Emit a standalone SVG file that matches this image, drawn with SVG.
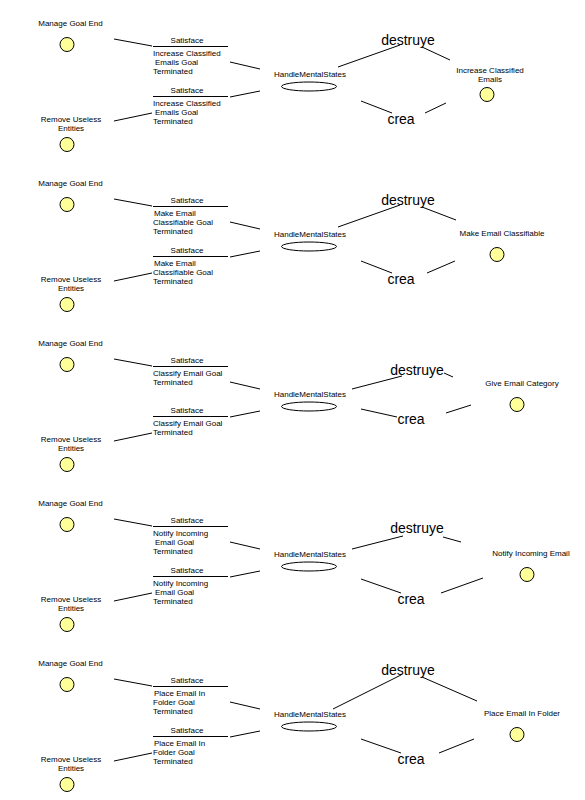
<svg xmlns="http://www.w3.org/2000/svg" width="585" height="800" viewBox="0 0 585 800">
<style>
text{font-family:"Liberation Sans",Arial,sans-serif;fill:#000}
.s{font-size:8px}
.m{text-anchor:middle}
.b{font-size:14px;text-anchor:middle}
.c{fill:#ffff99;stroke:#000;stroke-width:1}
.e{fill:#fff;stroke:#000;stroke-width:1}
.l{stroke:#000;stroke-width:1;fill:none}
</style>
<rect width="585" height="800" fill="#fff"/>

<!-- Panel 1 -->
<g id="p1-manage"><text class="s m" x="70.5" y="26">Manage Goal End</text><circle class="c" cx="67" cy="44.5" r="7"/></g>
<g id="p1-remove"><text class="s m" x="71" y="122">Remove Useless</text><text class="s m" x="71" y="131">Entities</text><circle class="c" cx="67" cy="144.5" r="7"/></g>
<g id="p1-sat1"><text class="s m" x="187" y="43">Satisface</text><line class="l" x1="153" y1="46.5" x2="228" y2="46.5"/><text class="s" x="153" y="56">Increase Classified</text><text class="s" x="155" y="65">Emails Goal</text><text class="s" x="153" y="74">Terminated</text></g>
<g id="p1-sat2"><text class="s m" x="187" y="93">Satisface</text><line class="l" x1="153" y1="96.5" x2="228" y2="96.5"/><text class="s" x="153" y="106">Increase Classified</text><text class="s" x="155" y="115">Emails Goal</text><text class="s" x="153" y="124">Terminated</text></g>
<g id="p1-hms"><text class="s m" x="310" y="77">HandleMentalStates</text><ellipse class="e" cx="309" cy="86.5" rx="27.5" ry="4.5"/></g>
<g id="p1-destruye"><text class="b" x="408" y="45">destruye</text></g>
<g id="p1-crea"><text class="b" x="401" y="124">crea</text></g>
<g id="p1-goal"><text class="s m" x="490" y="73">Increase Classified</text><text class="s m" x="490" y="82">Emails</text><circle class="c" cx="487" cy="94.5" r="7"/></g>

<!-- Panel 2 -->
<g id="p2-manage"><text class="s m" x="70.5" y="186">Manage Goal End</text><circle class="c" cx="67" cy="204.5" r="7"/></g>
<g id="p2-remove"><text class="s m" x="71" y="282">Remove Useless</text><text class="s m" x="71" y="291">Entities</text><circle class="c" cx="67" cy="304.5" r="7"/></g>
<g id="p2-sat1"><text class="s m" x="187" y="203">Satisface</text><line class="l" x1="153" y1="206.5" x2="228" y2="206.5"/><text class="s" x="154" y="216">Make Email</text><text class="s" x="153" y="225">Classifiable Goal</text><text class="s" x="153" y="234">Terminated</text></g>
<g id="p2-sat2"><text class="s m" x="187" y="253">Satisface</text><line class="l" x1="153" y1="256.5" x2="228" y2="256.5"/><text class="s" x="154" y="266">Make Email</text><text class="s" x="153" y="275">Classifiable Goal</text><text class="s" x="153" y="284">Terminated</text></g>
<g id="p2-hms"><text class="s m" x="310" y="237">HandleMentalStates</text><ellipse class="e" cx="309" cy="246.5" rx="27.5" ry="4.5"/></g>
<g id="p2-destruye"><text class="b" x="408" y="205">destruye</text></g>
<g id="p2-crea"><text class="b" x="401" y="284">crea</text></g>
<g id="p2-goal"><text class="s m" x="502" y="236">Make Email Classifiable</text><circle class="c" cx="497" cy="254.5" r="7"/></g>

<!-- Panel 3 -->
<g id="p3-manage"><text class="s m" x="70.5" y="346">Manage Goal End</text><circle class="c" cx="67" cy="364.5" r="7"/></g>
<g id="p3-remove"><text class="s m" x="71" y="442">Remove Useless</text><text class="s m" x="71" y="451">Entities</text><circle class="c" cx="67" cy="464.5" r="7"/></g>
<g id="p3-sat1"><text class="s m" x="187" y="363">Satisface</text><line class="l" x1="153" y1="366.5" x2="228" y2="366.5"/><text class="s" x="153" y="376">Classify Email Goal</text><text class="s" x="153" y="385">Terminated</text></g>
<g id="p3-sat2"><text class="s m" x="187" y="413">Satisface</text><line class="l" x1="153" y1="416.5" x2="228" y2="416.5"/><text class="s" x="153" y="426">Classify Email Goal</text><text class="s" x="153" y="435">Terminated</text></g>
<g id="p3-hms"><text class="s m" x="310" y="397">HandleMentalStates</text><ellipse class="e" cx="309" cy="406.5" rx="27.5" ry="4.5"/></g>
<g id="p3-destruye"><text class="b" x="417" y="375">destruye</text></g>
<g id="p3-crea"><text class="b" x="411" y="424">crea</text></g>
<g id="p3-goal"><text class="s m" x="522" y="386">Give Email Category</text><circle class="c" cx="517" cy="404.5" r="7"/></g>

<!-- Panel 4 -->
<g id="p4-manage"><text class="s m" x="70.5" y="506">Manage Goal End</text><circle class="c" cx="67" cy="524.5" r="7"/></g>
<g id="p4-remove"><text class="s m" x="71" y="602">Remove Useless</text><text class="s m" x="71" y="611">Entities</text><circle class="c" cx="67" cy="624.5" r="7"/></g>
<g id="p4-sat1"><text class="s m" x="187" y="523">Satisface</text><line class="l" x1="153" y1="526.5" x2="228" y2="526.5"/><text class="s" x="153" y="536">Notify Incoming</text><text class="s" x="155" y="545">Email Goal</text><text class="s" x="153" y="554">Terminated</text></g>
<g id="p4-sat2"><text class="s m" x="187" y="573">Satisface</text><line class="l" x1="153" y1="576.5" x2="228" y2="576.5"/><text class="s" x="153" y="586">Notify Incoming</text><text class="s" x="155" y="595">Email Goal</text><text class="s" x="153" y="604">Terminated</text></g>
<g id="p4-hms"><text class="s m" x="310" y="557">HandleMentalStates</text><ellipse class="e" cx="309" cy="566.5" rx="27.5" ry="4.5"/></g>
<g id="p4-destruye"><text class="b" x="417" y="533">destruye</text></g>
<g id="p4-crea"><text class="b" x="411" y="604">crea</text></g>
<g id="p4-goal"><text class="s m" x="531" y="556">Notify Incoming Email</text><circle class="c" cx="527" cy="574.5" r="7"/></g>

<!-- Panel 5 -->
<g id="p5-manage"><text class="s m" x="70.5" y="666">Manage Goal End</text><circle class="c" cx="67" cy="684.5" r="7"/></g>
<g id="p5-remove"><text class="s m" x="71" y="762">Remove Useless</text><text class="s m" x="71" y="771">Entities</text><circle class="c" cx="67" cy="784.5" r="7"/></g>
<g id="p5-sat1"><text class="s m" x="187" y="683">Satisface</text><line class="l" x1="153" y1="686.5" x2="228" y2="686.5"/><text class="s" x="154" y="696">Place Email In</text><text class="s" x="153" y="705">Folder Goal</text><text class="s" x="153" y="714">Terminated</text></g>
<g id="p5-sat2"><text class="s m" x="187" y="733">Satisface</text><line class="l" x1="153" y1="736.5" x2="228" y2="736.5"/><text class="s" x="154" y="746">Place Email In</text><text class="s" x="153" y="755">Folder Goal</text><text class="s" x="153" y="764">Terminated</text></g>
<g id="p5-hms"><text class="s m" x="310" y="717">HandleMentalStates</text><ellipse class="e" cx="309" cy="726.5" rx="27.5" ry="4.5"/></g>
<g id="p5-destruye"><text class="b" x="408" y="675">destruye</text></g>
<g id="p5-crea"><text class="b" x="411" y="764">crea</text></g>
<g id="p5-goal"><text class="s m" x="522" y="716">Place Email In Folder</text><circle class="c" cx="517" cy="734.5" r="7"/></g>

<g id="connectors" class="l">
<!-- panel 1 -->
<line class="l" x1="114" y1="39" x2="152" y2="46"/>
<line class="l" x1="230" y1="62" x2="260" y2="69"/>
<line class="l" x1="230" y1="97" x2="260" y2="91"/>
<line class="l" x1="114" y1="121" x2="152" y2="113"/>
<line class="l" x1="338" y1="67" x2="400" y2="45"/>
<line class="l" x1="422" y1="47" x2="450" y2="60"/>
<line class="l" x1="361" y1="101" x2="392" y2="113"/>
<line class="l" x1="425" y1="113" x2="446" y2="103"/>
<!-- panel 2 -->
<line class="l" x1="114" y1="199" x2="152" y2="206"/>
<line class="l" x1="230" y1="222" x2="260" y2="229"/>
<line class="l" x1="230" y1="257" x2="260" y2="251"/>
<line class="l" x1="114" y1="281" x2="152" y2="273"/>
<line class="l" x1="338" y1="227" x2="400" y2="205"/>
<line class="l" x1="422" y1="207" x2="456" y2="220"/>
<line class="l" x1="361" y1="261" x2="392" y2="273"/>
<line class="l" x1="427" y1="273" x2="455" y2="261"/>
<!-- panel 3 -->
<line class="l" x1="114" y1="359" x2="152" y2="366"/>
<line class="l" x1="230" y1="382" x2="260" y2="389"/>
<line class="l" x1="230" y1="417" x2="260" y2="411"/>
<line class="l" x1="114" y1="441" x2="152" y2="433"/>
<line class="l" x1="352" y1="389" x2="402" y2="376"/>
<line class="l" x1="444" y1="373" x2="453" y2="377"/>
<line class="l" x1="361" y1="409" x2="397" y2="417"/>
<line class="l" x1="446" y1="413" x2="471" y2="405"/>
<!-- panel 4 -->
<line class="l" x1="114" y1="519" x2="152" y2="526"/>
<line class="l" x1="230" y1="542" x2="260" y2="549"/>
<line class="l" x1="230" y1="577" x2="260" y2="571"/>
<line class="l" x1="114" y1="601" x2="152" y2="593"/>
<line class="l" x1="352" y1="549" x2="403" y2="536"/>
<line class="l" x1="443" y1="537" x2="461" y2="542"/>
<line class="l" x1="361" y1="579" x2="401" y2="593"/>
<line class="l" x1="441" y1="593" x2="483" y2="578"/>
<!-- panel 5 -->
<line class="l" x1="114" y1="679" x2="152" y2="686"/>
<line class="l" x1="230" y1="702" x2="260" y2="709"/>
<line class="l" x1="230" y1="737" x2="260" y2="731"/>
<line class="l" x1="114" y1="761" x2="152" y2="753"/>
<line class="l" x1="333" y1="709" x2="401" y2="675"/>
<line class="l" x1="422" y1="677" x2="477" y2="701"/>
<line class="l" x1="361" y1="739" x2="401" y2="753"/>
<line class="l" x1="439" y1="753" x2="474" y2="739"/>
</g>
</svg>
